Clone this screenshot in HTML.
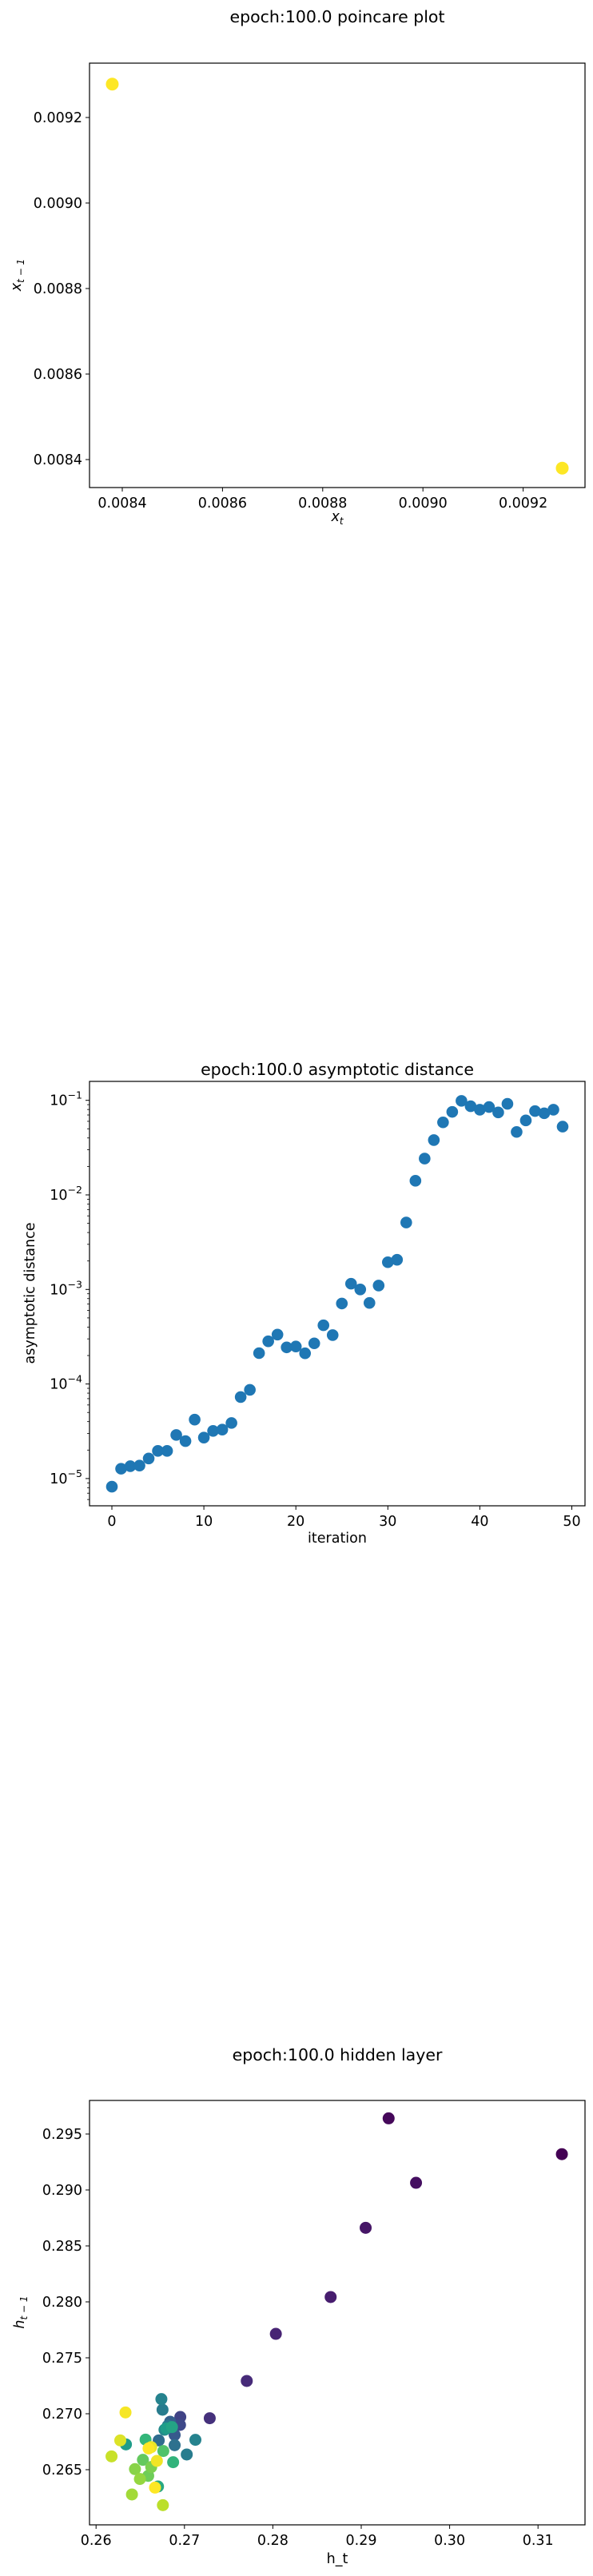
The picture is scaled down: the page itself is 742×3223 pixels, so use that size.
<!DOCTYPE html>
<html><head><meta charset="utf-8">
<style>
html,body{margin:0;padding:0;background:#fff;}
svg{display:block;font-family:"DejaVu Sans","Liberation Sans",sans-serif;}
</style></head>
<body>
<svg id="fig" width="742" height="3223" viewBox="0 0 742 3223" xmlns="http://www.w3.org/2000/svg"></svg>
<script>
// ---- chart 1: poincare plot data ----
const poincareX = [0.00838, 0.009278];
const poincareY = [0.009278, 0.00838];
const poincareXTicks = [0.0084, 0.0086, 0.0088, 0.0090, 0.0092];
const poincareYTicks = [0.0084, 0.0086, 0.0088, 0.0090, 0.0092];

// ---- chart 2: asymptotic distance data ----
const distIter = Array.from({length:50},(_,i)=>i);
const distValues = [8.2e-6,1.27e-5,1.35e-5,1.37e-5,1.63e-5,1.96e-5,1.96e-5,2.89e-5,2.49e-5,4.2e-5,
 2.71e-5,3.19e-5,3.29e-5,3.87e-5,7.28e-5,8.67e-5,2.12e-4,2.83e-4,3.33e-4,2.44e-4,
 2.49e-4,2.11e-4,2.69e-4,4.18e-4,3.29e-4,7.1e-4,1.15e-3,1.0e-3,7.2e-4,1.1e-3,
 1.94e-3,2.06e-3,5.1e-3,1.41e-2,2.42e-2,3.8e-2,5.85e-2,7.55e-2,9.87e-2,8.66e-2,
 7.96e-2,8.49e-2,7.45e-2,9.18e-2,4.63e-2,6.13e-2,7.7e-2,7.3e-2,7.96e-2,5.27e-2];
const distXTicks = [0,10,20,30,40,50];
const distYDecades = [-5,-4,-3,-2,-1];

// ---- chart 3: hidden layer data ----
const hiddenX = [0.3127,0.2931,0.2962,0.2905,0.28654,0.28034,0.27705,0.27286,0.26953,0.2695,
 0.26838,0.26889,0.26889,0.26709,0.26739,0.26752,0.26795,0.26859,0.27124,0.27026,
 0.26872,0.26560,0.26338,0.26761,0.26530,0.26624,0.26440,0.26590,0.26496,0.26406,
 0.26701,0.26667,0.26756,0.26175,0.26274,0.26688,0.26594,0.26333,0.26624,0.26812,0.26774];
const hiddenY = [0.2932,0.2964,0.29064,0.28662,0.28043,0.27714,0.27293,0.26960,0.26971,0.2690,
 0.26929,0.26810,0.26719,0.26762,0.27131,0.27036,0.26869,0.26881,0.26767,0.26636,
 0.26567,0.26769,0.26726,0.26667,0.26588,0.26524,0.26505,0.26445,0.26417,0.26279,
 0.26350,0.26340,0.26183,0.26619,0.26762,0.26579,0.26690,0.27012,0.26702,0.26893,0.26857];
const hiddenC = [0.0,0.02,0.04,0.06,0.08,0.10,0.12,0.14,0.2,0.22,
 0.3,0.28,0.37,0.35,0.45,0.42,0.55,0.58,0.45,0.42,
 0.65,0.66,0.55,0.72,0.76,0.8,0.82,0.78,0.84,0.86,
 0.6,1.0,0.9,0.92,0.95,0.98,1.0,0.99,0.97,0.4,0.48];
const hiddenXTicks = [0.26,0.27,0.28,0.29,0.30,0.31];
const hiddenYTicks = [0.265,0.270,0.275,0.280,0.285,0.290,0.295];

const NS="http://www.w3.org/2000/svg";
const svg=document.getElementById('fig');
function mk(tag,attrs,parent){const e=document.createElementNS(NS,tag);for(const k in attrs)e.setAttribute(k,attrs[k]);(parent||svg).appendChild(e);return e;}

const viridis=[[68,1,84],[72,40,120],[62,74,137],[49,104,142],[38,130,142],[31,158,137],[53,183,121],[109,205,89],[180,222,44],[253,231,37]];
function vir(t){t=Math.max(0,Math.min(1,t));const p=t*(viridis.length-1);const i=Math.min(Math.floor(p),viridis.length-2);const f=p-i;const a=viridis[i],b=viridis[i+1];return `rgb(${Math.round(a[0]+(b[0]-a[0])*f)},${Math.round(a[1]+(b[1]-a[1])*f)},${Math.round(a[2]+(b[2]-a[2])*f)})`;}

function frame(g,L,T,R,B){const r=mk('rect',{x:L,y:T,width:R-L,height:B-T,fill:'none',stroke:'#000','stroke-width':1.2},g);}
function text(g,x,y,s,opts){const t=mk('text',Object.assign({x:x,y:y,'font-size':17.5,fill:'#000'},opts||{}),g);t.textContent=s;return t;}

// ===== Chart 1 =====
(function(){
 const g=mk('g',{});
 const L=112,T=79,R=732,B=610;
 const sx=v=>153+(v-0.0084)*627000, sy=v=>575-(v-0.0084)*535000;
 let t=text(g,422,28,'epoch:100.0 poincare plot',{'font-size':20.5,'text-anchor':'middle'});
 poincareXTicks.forEach(v=>{const x=sx(v);mk('line',{x1:x,x2:x,y1:B,y2:B+5,stroke:'#000'},g);const l=text(g,x,B+25,v.toFixed(4),{'text-anchor':'middle'});});
 poincareYTicks.forEach(v=>{const y=sy(v);mk('line',{x1:L-5,x2:L,y1:y,y2:y,stroke:'#000'},g);const l=text(g,L-9,y+6,v.toFixed(4),{'text-anchor':'end'});});
 poincareX.forEach((v,i)=>{const c=mk('circle',{cx:sx(v),cy:sy(poincareY[i]),r:8,fill:'#fde725'},g);});
 frame(g,L,T,R,B);
 t=mk('text',{x:422,y:652,'font-size':17.5,'text-anchor':'middle','font-style':'italic'},g);t.innerHTML='x<tspan font-size="12" dy="4">t</tspan>';
 t=mk('text',{x:0,y:0,'font-size':17.5,'text-anchor':'middle','font-style':'italic',transform:'translate(26,344) rotate(-90)'},g);t.innerHTML='x<tspan font-size="12" dy="4">t − 1</tspan>';
})();

// ===== Chart 2 =====
(function(){
 const g=mk('g',{});
 const L=112,T=1353,R=732,B=1884;
 const sx=v=>140+v*11.51, sy=v=>1376.7+(-1-Math.log10(v))*118.3;
 let t=text(g,422,1345,'epoch:100.0 asymptotic distance',{'font-size':20.5,'text-anchor':'middle'});
 distXTicks.forEach(v=>{const x=sx(v);mk('line',{x1:x,x2:x,y1:B,y2:B+5,stroke:'#000'},g);const l=text(g,x,B+25,String(v),{'text-anchor':'middle'});});
 const dmin=Math.min(...distYDecades), dmax=Math.max(...distYDecades);
 for(let d=dmin-1;d<=dmax;d++){for(let m=2;m<=9;m++){const y=sy(m*Math.pow(10,d));if(y>T&&y<B)mk('line',{x1:L-3,x2:L,y1:y,y2:y,stroke:'#000','stroke-width':0.8},g);}}
 distYDecades.forEach(d=>{const y=sy(Math.pow(10,d));mk('line',{x1:L-5,x2:L,y1:y,y2:y,stroke:'#000'},g);const l=mk('text',{x:L-9,y:y+6,'font-size':17.5,'text-anchor':'end'},g);l.innerHTML='10<tspan font-size="12.5" dy="-8">−'+Math.abs(d)+'</tspan>';});
 distIter.forEach((v,i)=>{const c=mk('circle',{cx:sx(v),cy:sy(distValues[i]),r:7.3,fill:'#1f77b4'},g);});
 frame(g,L,T,R,B);
 t=text(g,422,1930,'iteration',{'text-anchor':'middle'});
 t=mk('text',{x:0,y:0,'font-size':17.5,'text-anchor':'middle',transform:'translate(43,1618) rotate(-90)'},g);t.textContent='asymptotic distance';
})();

// ===== Chart 3 =====
(function(){
 const g=mk('g',{});
 const L=112,T=2628,R=732,B=3159;
 const sx=v=>120.2+(v-0.26)*11060, sy=v=>2740-(v-0.29)*14000;
 let t=text(g,422,2578,'epoch:100.0 hidden layer',{'font-size':20.5,'text-anchor':'middle'});
 hiddenXTicks.forEach(v=>{const x=sx(v);mk('line',{x1:x,x2:x,y1:B,y2:B+5,stroke:'#000'},g);const l=text(g,x,B+25,v.toFixed(2),{'text-anchor':'middle'});});
 hiddenYTicks.forEach(v=>{const y=sy(v);mk('line',{x1:L-5,x2:L,y1:y,y2:y,stroke:'#000'},g);const l=text(g,L-9,y+6,v.toFixed(3),{'text-anchor':'end'});});
 const idx=hiddenX.map((_,i)=>i).sort((a,b)=>hiddenC[a]-hiddenC[b]);
 idx.forEach(i=>{const c=mk('circle',{cx:sx(hiddenX[i]),cy:sy(hiddenY[i]),r:7.5,fill:vir(hiddenC[i])},g);});
 frame(g,L,T,R,B);
 t=text(g,422,3207,'h_t',{'text-anchor':'middle'});
 t=mk('text',{x:0,y:0,'font-size':17.5,'text-anchor':'middle','font-style':'italic',transform:'translate(30,2893) rotate(-90)'},g);t.innerHTML='h<tspan font-size="12" dy="4">t − 1</tspan>';
})();
</script>
</body></html>
